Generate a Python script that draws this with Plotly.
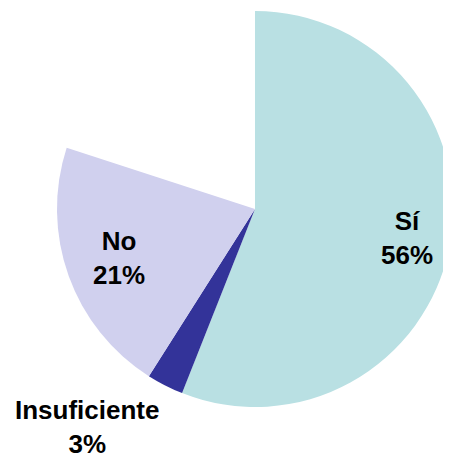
import math
import plotly.graph_objects as go

labels = ["Sí", "Insuficiente", "No", ""]
values = [56, 3, 21, 20]
colors = ["#B9E0E3", "#333399", "#D0D0EE", "rgba(255,255,255,0)"]

W, H = 451, 454
dom_x = [0.1086, 0.9867]
dom_y = [0.1211, 0.9934]

fig = go.Figure(go.Pie(
    labels=labels,
    values=values,
    sort=False,
    direction="clockwise",
    rotation=0,
    marker=dict(colors=colors, line=dict(width=0)),
    textinfo="none",
    showlegend=False,
    hoverinfo="skip",
    domain=dict(x=dom_x, y=dom_y),
))

# pie geometry in pixels (derived from domain)
cx = (dom_x[0] + dom_x[1]) / 2 * W
cy = H - (dom_y[0] + dom_y[1]) / 2 * H
R = min((dom_x[1] - dom_x[0]) * W, (dom_y[1] - dom_y[0]) * H) / 2

total = sum(values)
cum = 0
mids = []
for v in values:
    mids.append((cum + v / 2) / total * 360)
    cum += v

font = dict(family="Liberation Sans, Arial, sans-serif", size=26, color="#000000")
# (slice index, radius factor, placement)
placements = [(0, 0.78, "inside"), (2, 0.73, "inside"), (1, 1.0, "outside")]
annotations = []
for i, f, kind in placements:
    a = math.radians(mids[i])
    px = cx + math.sin(a) * R * f
    py = cy - math.cos(a) * R * f
    txt = f"<b>{labels[i]}<br>{values[i]}%</b>"
    if kind == "inside":
        annotations.append(dict(x=px / W, y=1 - py / H, xref="paper", yref="paper",
                                text=txt, showarrow=False, font=font,
                                xanchor="center", yanchor="middle", align="center"))
    else:
        annotations.append(dict(x=px / W, y=1 - py / H, xref="paper", yref="paper",
                                text=txt, showarrow=False, font=font,
                                xanchor="right", yanchor="top", align="center",
                                xshift=-4, yshift=-8))

fig.update_layout(
    width=W, height=H,
    margin=dict(l=0, r=0, t=0, b=0),
    paper_bgcolor="white",
    plot_bgcolor="white",
    font=dict(family="Liberation Sans, Arial, sans-serif"),
    annotations=annotations,
)

fig.write_html("out.html")
